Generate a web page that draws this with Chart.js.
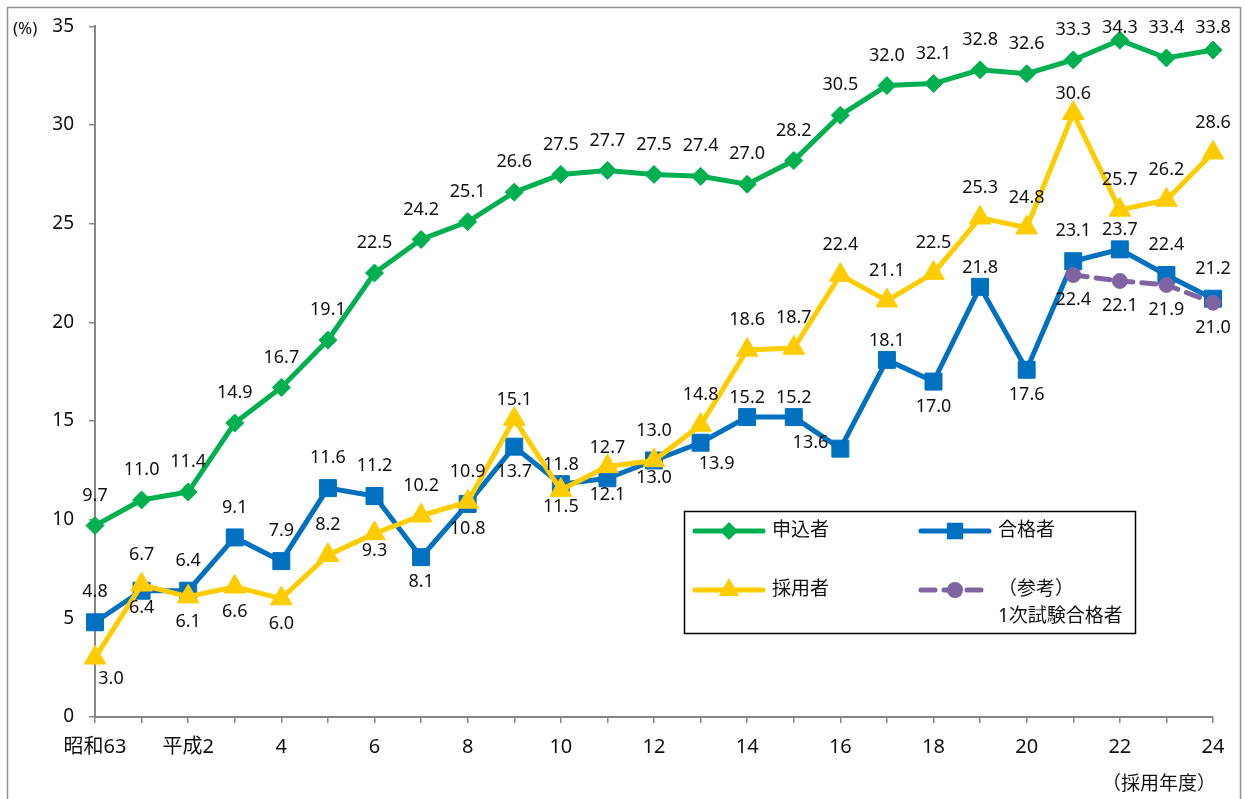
<!DOCTYPE html>
<html lang="ja">
<head>
<meta charset="utf-8">
<title>申込者・合格者・採用者の割合</title>
<script src="https://cdn.jsdelivr.net/npm/chart.js@4.4.1/dist/chart.umd.min.js"></script>
<style>
  html, body { margin: 0; padding: 0; background: #fff; }
  canvas { display: block; }
</style>
</head>
<body>
<canvas id="chart" width="1245" height="799"></canvas>
<script>
// 採用年度（昭和63〜平成24）
const years = ['昭和63','平成元','平成2','平成3','平成4','平成5','平成6','平成7','平成8','平成9','平成10',
  '平成11','平成12','平成13','平成14','平成15','平成16','平成17','平成18','平成19','平成20',
  '平成21','平成22','平成23','平成24'];
const tickLabels = ['昭和63','','平成2','','4','','6','','8','','10','','12','','14','','16','','18','','20','','22','','24'];

// 割合（%）
const applicants = [9.7,11.0,11.4,14.9,16.7,19.1,22.5,24.2,25.1,26.6,27.5,27.7,27.5,27.4,27.0,28.2,30.5,32.0,32.1,32.8,32.6,33.3,34.3,33.4,33.8];
const passed     = [4.8,6.4,6.4,9.1,7.9,11.6,11.2,8.1,10.8,13.7,11.8,12.1,13.0,13.9,15.2,15.2,13.6,18.1,17.0,21.8,17.6,23.1,23.7,22.4,21.2];
const hired      = [3.0,6.7,6.1,6.6,6.0,8.2,9.3,10.2,10.9,15.1,11.5,12.7,13.0,14.8,18.6,18.7,22.4,21.1,22.5,25.3,24.8,30.6,25.7,26.2,28.6];
const firstStage = [null,null,null,null,null,null,null,null,null,null,null,null,null,null,null,null,null,null,null,null,null,22.4,22.1,21.9,21.0];

// 値ラベルの位置（T/t:上, B/b:下, BR:右下, L:左）
const applicantsPos = Array(25).fill('T');
const passedPos = ['T','b','T','T','T','T','T','B','B','B','t','b','b','BR','t','t','L','t','B','t','B','T','t','T','T'];
const hiredPos  = ['BR','T','B','B','B','T','b','T','T','t','b','t','T','T','T','T','T','T','T','T','T','t','T','T','T'];
const firstStagePos = Array(25).fill('B');

const FONT = "'Noto Sans', 'Noto Sans CJK JP', sans-serif";
Chart.defaults.font.family = FONT;
Chart.defaults.color = '#111';

const labelOffsets = {
  T: [0, -30, 'center'], t: [0, -19, 'center'],
  B: [0, 25, 'center'], b: [0, 17, 'center'],
  BR: [16, 21, 'center'], L: [-12, -6, 'right']
};

const valueLabels = {
  id: 'valueLabels',
  afterDatasetsDraw(chart) {
    const ctx = chart.ctx;
    ctx.save();
    ctx.font = '18px ' + FONT;
    ctx.fillStyle = '#111';
    ctx.textBaseline = 'middle';
    chart.data.datasets.forEach((ds, di) => {
      chart.getDatasetMeta(di).data.forEach((pt, i) => {
        const v = ds.data[i];
        if (v == null) return;
        const [dx, dy, align] = labelOffsets[ds.labelPos[i]];
        let y = pt.y + dy;
        if (y < chart.chartArea.top + 1) y = chart.chartArea.top + 1;
        ctx.textAlign = align;
        ctx.fillText(v.toFixed(1), pt.x + dx, y);
      });
    });
    ctx.restore();
  }
};

// 枠付き凡例・外枠・単位
const boxLegend = {
  id: 'boxLegend',
  afterDraw(chart) {
    const ctx = chart.ctx;
    ctx.save();
    ctx.strokeStyle = '#909090';
    ctx.lineWidth = 1.5;
    ctx.strokeRect(7.5, 7.5, 1233, 820);

    ctx.fillStyle = '#111';
    ctx.font = '17px ' + FONT;
    ctx.textAlign = 'left';
    ctx.textBaseline = 'middle';
    ctx.fillText('(%)', 13, 29);
    ctx.font = '19px ' + FONT;
    ctx.textAlign = 'right';
    ctx.fillText('（採用年度）', 1216, 785);

    ctx.strokeStyle = '#000';
    ctx.lineWidth = 1.5;
    ctx.strokeRect(684.5, 511.5, 451, 122);

    const slots = [[693, 531], [919, 531], [693, 590], [919, 590]];
    chart.data.datasets.forEach((ds, i) => {
      const [x, y] = slots[i];
      ctx.strokeStyle = ds.borderColor;
      ctx.fillStyle = ds.borderColor;
      ctx.lineWidth = 5;
      ctx.lineCap = 'round';
      ctx.setLineDash(ds.borderDash || []);
      ctx.beginPath();
      ctx.moveTo(x + 2, y);
      ctx.lineTo(x + 70, y);
      ctx.stroke();
      ctx.setLineDash([]);
      Chart.helpers.drawPoint(ctx, {
        pointStyle: ds.pointStyle, rotation: 0,
        radius: ds.legendRadius, borderWidth: 1
      }, x + 36, y);
      ctx.fillStyle = '#111';
      ctx.font = '19px ' + FONT;
      ctx.textAlign = 'left';
      ds.label.split('\n').forEach((line, k) => ctx.fillText(line, x + 79, y + k * 27));
    });
    ctx.restore();
  }
};

const lineSet = (label, data, color, style, radius, legendRadius, pos, order) => ({
  label, data, order,
  borderColor: color, backgroundColor: color,
  borderWidth: 5, tension: 0,
  pointStyle: style, pointRadius: radius, pointBorderWidth: 1,
  pointBackgroundColor: color, pointBorderColor: color,
  legendRadius, labelPos: pos, clip: false
});

const purple = lineSet('（参考）\n1次試験合格者', firstStage, '#8064A2', 'circle', 7.5, 5.5, firstStagePos, 0);
purple.borderDash = [14, 9];
purple.borderCapStyle = 'round';

new Chart(document.getElementById('chart'), {
  type: 'line',
  data: {
    labels: years,
    datasets: [
      lineSet('申込者', applicants, '#00B050', 'rectRot', 9, 5.5, applicantsPos, 3),
      lineSet('合格者', passed, '#0070C0', 'rect', 12, 8, passedPos, 2),
      lineSet('採用者', hired, '#FFCC00', 'triangle', 12.5, 7, hiredPos, 1),
      purple
    ]
  },
  options: {
    responsive: false,
    animation: false,
    layout: { padding: { left: 0, top: 26, right: 32, bottom: 0 } },
    plugins: { legend: { display: false }, tooltip: { enabled: false } },
    scales: {
      x: {
        offset: false,
        afterFit: s => { s.height = 82; },
        grid: { display: true, drawOnChartArea: false, drawTicks: true, tickLength: 6, color: '#868686', lineWidth: 1.5 },
        border: { display: true, color: '#868686', width: 2 },
        ticks: {
          autoSkip: false, maxRotation: 0, padding: 12,
          font: { size: 20 }, color: '#111',
          callback: (v, i) => tickLabels[i]
        }
      },
      y: {
        min: 0, max: 35,
        afterFit: s => { s.width = 95; },
        grid: { display: true, drawOnChartArea: false, drawTicks: true, tickLength: 6, color: '#868686', lineWidth: 1.5 },
        border: { display: true, color: '#868686', width: 2 },
        ticks: { stepSize: 5, padding: 15, font: { size: 19 }, color: '#111' }
      }
    }
  },
  plugins: [valueLabels, boxLegend]
});
</script>
</body>
</html>
